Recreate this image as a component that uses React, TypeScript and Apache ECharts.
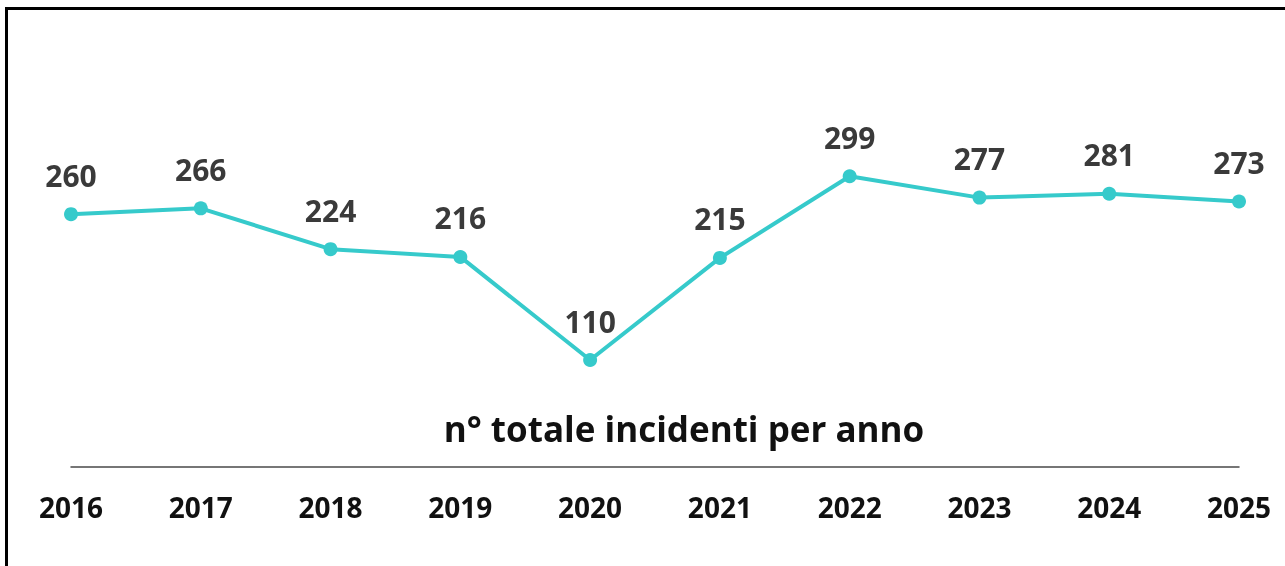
import React, { useEffect, useRef } from "react";
import * as echarts from "echarts";

const years = ["2016", "2017", "2018", "2019", "2020", "2021", "2022", "2023", "2024", "2025"];
const incidents = [260, 266, 224, 216, 110, 215, 299, 277, 281, 273];
const chartTitle = "n° totale incidenti per anno";

const FONT = "'Open Sans', sans-serif";

export default function App() {
  const ref = useRef<HTMLDivElement>(null);
  useEffect(() => {
    if (!ref.current) return;
    const chart = echarts.init(ref.current, undefined, { renderer: "svg" });
    chart.setOption({
      animation: false,
      backgroundColor: "transparent",
      grid: { left: 71, right: 46, top: 78, bottom: 99 },
      xAxis: {
        type: "category",
        data: years,
        boundaryGap: false,
        axisLine: { show: true, lineStyle: { color: "#4a4a4a", width: 1.5 } },
        axisTick: { show: false },
        axisLabel: {
          color: "#111",
          fontFamily: FONT,
          fontWeight: "bold",
          fontSize: 28,
          margin: 26,
        },
      },
      yAxis: {
        type: "value",
        min: 0,
        max: 400,
        show: false,
        splitLine: { show: false },
      },
      graphic: [
        {
          type: "text",
          x: 684,
          y: 428,
          style: {
            text: chartTitle,
            fill: "#111",
            font: `bold 35px ${FONT}`,
            textAlign: "center",
            textVerticalAlign: "middle",
          },
        },
      ],
      series: [
        {
          type: "line",
          data: incidents,
          symbol: "circle",
          symbolSize: 14,
          itemStyle: { color: "#36CACB" },
          lineStyle: { color: "#36CACB", width: 4 },
          label: {
            show: true,
            position: "top",
            distance: 17,
            color: "#3a3a3a",
            fontFamily: FONT,
            fontWeight: "bold",
            fontSize: 30,
          },
        },
      ],
    });
    return () => chart.dispose();
  }, []);
  return (
    <>
      <div
        style={{
          position: "fixed",
          left: 5,
          top: 7,
          width: 1290,
          height: 570,
          borderLeft: "3px solid #000",
          borderTop: "3px solid #000",
          boxSizing: "border-box",
        }}
      />
      <div
        ref={ref}
        style={{ position: "fixed", left: 0, top: 0, width: 1285, height: 566 }}
      />
    </>
  );
}
